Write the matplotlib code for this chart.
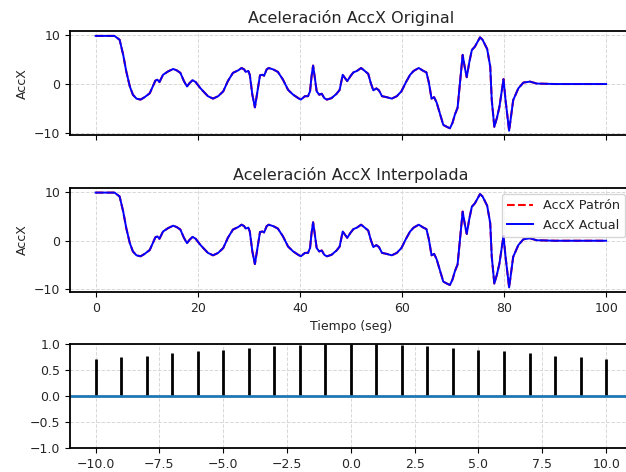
import matplotlib
matplotlib.use("Agg")
import matplotlib.pyplot as plt

# AccX signal (seconds, m/s^2)
tiempo = [0, 3.7, 4.7, 5.4, 6.0, 6.7, 7.3, 8.0, 8.8, 9.6, 10.6, 11.2, 11.7, 12.1,
          12.5, 13.2, 14.2, 15.2, 15.9, 16.6, 17.3, 17.9, 18.4, 19.0, 19.6, 20.4,
          21.0, 22.0, 23.0, 24.0, 25.0, 25.9, 26.9, 27.9, 28.6, 29.1, 29.4, 29.9,
          30.2, 30.7, 31.2, 31.7, 32.2, 32.7, 33.0, 33.5, 33.9, 34.8, 35.7, 36.7,
          37.7, 38.7, 39.7, 40.2, 41.0, 41.6, 42.0, 42.3, 42.6, 42.9, 43.3, 43.8,
          44.3, 44.8, 45.3, 46.2, 47.2, 47.8, 48.4, 48.8, 49.3, 49.9, 50.5, 51.2,
          52.0, 52.6, 53.4, 53.9, 54.4, 55.0, 55.5, 56.1, 57.0, 58.0, 59.0, 59.9,
          60.8, 61.6, 62.3, 63.3, 64.2, 64.8, 65.3, 65.8, 66.3, 66.8, 67.5, 68.1,
          68.8, 69.4, 69.9, 70.4, 70.9, 71.4, 71.9, 72.3, 72.7, 73.2, 73.7, 74.3,
          75.3, 75.8, 76.7, 77.3, 77.6, 78.1, 78.6, 79.1, 79.9, 80.3, 81.0, 81.8,
          82.8, 83.8, 85.1, 86.4, 90.0, 100.0]
accx = [9.9, 9.9, 9.1, 6.0, 2.6, -0.5, -2.2, -3.0, -3.2, -2.7, -1.9, -0.5, 0.7, 0.9,
        0.4, 1.9, 2.6, 3.1, 2.8, 2.3, 0.6, -0.5, 0.2, 0.8, 0.4, -0.7,
        -1.4, -2.5, -3.0, -2.5, -1.5, 0.6, 2.3, 2.8, 3.3, 3.0, 2.5, 2.7,
        1.9, -2.2, -4.8, -1.5, 1.8, 1.9, 1.7, 3.0, 3.3, 3.0, 2.5, 0.9,
        -1.2, -2.2, -2.9, -3.2, -2.5, -2.5, -1.5, 1.6, 3.8, 1.6, -1.5, -2.2,
        -2.0, -2.9, -3.2, -2.9, -2.0, -1.2, 1.9, 1.3, 0.6, 1.6, 2.4, 2.7,
        3.3, 2.8, 2.1, 0.2, -1.3, -0.9, -1.3, -2.5, -2.7, -3.0, -2.5, -1.5,
        0.4, 1.9, 2.7, 3.3, 2.7, 2.4, 0.2, -3.0, -2.7, -3.8, -6.3, -8.4,
        -8.8, -9.1, -8.0, -6.2, -4.9, 0.6, 6.0, 3.5, 1.4, 4.5, 7.0, 7.7,
        9.6, 9.1, 7.2, 3.6, -3.3, -8.8, -7.0, -4.7, 1.0, -3.3, -9.6, -3.3,
        -0.9, 0.3, 0.5, 0.1, 0.0, 0.0]

# normalised cross-correlation, lags -10..10
lags = list(range(-10, 11))
corr = [0.71, 0.745, 0.77, 0.815, 0.86, 0.88, 0.925, 0.945, 0.97, 0.995, 1.0,
        0.995, 0.97, 0.945, 0.925, 0.88, 0.86, 0.815, 0.77, 0.745, 0.71]

plt.rcParams["font.size"] = 9
plt.rcParams["text.color"] = "#262626"
plt.rcParams["axes.labelcolor"] = "#262626"
plt.rcParams["xtick.labelcolor"] = "#262626"
plt.rcParams["ytick.labelcolor"] = "#262626"

fig = plt.figure(figsize=(6.26, 4.72), dpi=100)
left, width, h = 0.112, 0.897, 0.221
ax1 = fig.add_axes([left, 0.713, width, h])
ax2 = fig.add_axes([left, 0.381, width, h], sharex=ax1)
ax3 = fig.add_axes([left, 0.051, width, h])

for ax in (ax1, ax2):
    ax.plot(tiempo, accx, "r--", lw=1.5, label="AccX Patrón")
    ax.plot(tiempo, accx, "b-", lw=1.4, label="AccX Actual")
    ax.set_ylabel("AccX")
    ax.set_yticks([-10, 0, 10])

ax1.set_title("Aceleración AccX Original", fontsize=11.5)
ax1.tick_params(labelbottom=False)
ax2.set_title("Aceleración AccX Interpolada", fontsize=11.5)
ax2.set_xlabel("Tiempo (seg)")
ax2.legend(loc="upper right", fontsize=9.3)

ax3.vlines(lags, 0, corr, color="k", lw=2)
ax3.axhline(0, color="#1f77b4", lw=2)
ax3.set_ylim(-1, 1)
ax3.set_xlim(-11, 11)

for ax in (ax1, ax2, ax3):
    ax.grid(True, ls="--", color="#d8d8d8", lw=0.7)
    for s in ax.spines.values():
        s.set_linewidth(1.3)

fig.savefig("out.png", dpi=100)
